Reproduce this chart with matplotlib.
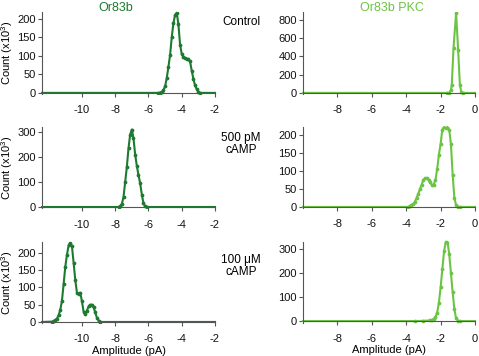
import numpy as np
import matplotlib
matplotlib.use('Agg')
import matplotlib.pyplot as plt

plt.rcParams['font.family'] = ['Liberation Sans', 'DejaVu Sans']
plt.rcParams['mathtext.fontset'] = 'custom'
plt.rcParams['mathtext.rm'] = 'Liberation Sans'
plt.rcParams['axes.unicode_minus'] = False

DARK = '#1d7a30'
LIGHT = '#6cc444'
AXC = '#555555'

# amplitude (pA) and counts (x10^3)
ctl_x = [-12.4, -5.4, -5.3, -5.2, -5.1, -5.0, -4.9, -4.8, -4.7, -4.6, -4.5, -4.4, -4.3,
         -4.2, -4.1, -4.0, -3.9, -3.8, -3.7, -3.6, -3.5, -3.4, -3.3, -3.2, -3.1, -3.0,
         -2.9, -2.0]
ctl_y = [0, 0, 1, 3, 7, 18, 40, 70, 102, 150, 188, 210, 216,
         185, 130, 105, 97, 93, 91, 90, 85, 60, 38, 20, 10, 3,
         0, 0]

pkc_ctl_x = [-10.0, -1.6, -1.5, -1.4, -1.35, -1.25, -1.1, -0.98, -0.88, -0.8, -0.7, 0.0]
pkc_ctl_y = [0, 0, 2, 30, 90, 490, 875, 470, 90, 10, 0, 0]

pm_x = [-12.4, -7.8, -7.7, -7.6, -7.5, -7.4, -7.3, -7.2, -7.1, -7.0, -6.9, -6.8,
        -6.7, -6.6, -6.5, -6.4, -6.3, -6.2, -6.1, -2.0]
pm_y = [0, 0, 3, 12, 40, 100, 160, 235, 290, 310, 275, 210,
        165, 128, 95, 50, 15, 3, 0, 0]

pkc_pm_x = [-10.0, -3.9, -3.8, -3.7, -3.6, -3.5, -3.4, -3.3, -3.2, -3.1, -3.0, -2.9,
            -2.8, -2.7, -2.6, -2.5, -2.4, -2.3, -2.2, -2.1, -2.0, -1.9, -1.8, -1.7,
            -1.6, -1.5, -1.4, -1.3, -1.2, -1.1, -1.0, -0.9, 0.0]
pkc_pm_y = [0, 0, 2, 5, 8, 14, 25, 36, 50, 62, 75, 80,
            80, 76, 68, 60, 62, 75, 105, 145, 175, 215, 222, 220,
            222, 215, 175, 90, 25, 5, 1, 0, 0]

um_x = [-12.4, -11.8, -11.7, -11.6, -11.5, -11.4, -11.3, -11.2, -11.1, -11.0, -10.9,
        -10.8, -10.7, -10.6, -10.5, -10.4, -10.3, -10.2, -10.1, -10.0, -9.9, -9.8,
        -9.7, -9.6, -9.5, -9.4, -9.3, -9.2, -9.1, -9.0, -8.9, -2.0]
um_y = [0, 1, 3, 5, 10, 20, 35, 62, 110, 160, 195,
        222, 230, 220, 172, 122, 85, 82, 85, 60, 30, 24,
        33, 45, 50, 50, 42, 28, 12, 4, 0, 0]

pkc_um_x = [-10.0, -3.5, -3.0, -2.6, -2.5, -2.4, -2.3, -2.2, -2.1, -2.0, -1.9, -1.8,
            -1.7, -1.6, -1.5, -1.4, -1.3, -1.2, -1.1, -1.0, -0.9, 0.0]
pkc_um_y = [0, 0, 1, 3, 5, 8, 15, 35, 75, 140, 215, 290,
            330, 330, 280, 200, 120, 50, 12, 2, 0, 0]

W, H = 479, 356
fig = plt.figure(figsize=(W / 100, H / 100), dpi=100)


def make_ax(x0, x1, top, bot):
    return fig.add_axes([x0 / W, 1 - bot / H, (x1 - x0) / W, (bot - top) / H])


panels = [
    # x, y, color, box, xlim, ylim, yticks, xticks
    (ctl_x, ctl_y, DARK, (42, 215, 12, 94), (-12.4, -2), (-3, 218), [0, 50, 100, 150, 200], [-10, -8, -6, -4, -2]),
    (pkc_ctl_x, pkc_ctl_y, LIGHT, (303, 475, 12, 94), (-10, 0), (-12, 886), [0, 200, 400, 600, 800], [-8, -6, -4, -2, 0]),
    (pm_x, pm_y, DARK, (42, 215, 127, 208), (-12.4, -2), (-4, 320), [0, 100, 200, 300], [-10, -8, -6, -4, -2]),
    (pkc_pm_x, pkc_pm_y, LIGHT, (303, 475, 127, 208), (-10, 0), (-3, 222), [0, 50, 100, 150, 200], [-8, -6, -4, -2, 0]),
    (um_x, um_y, DARK, (42, 215, 242, 323), (-12.4, -2), (-3, 232), [0, 50, 100, 150, 200], [-10, -8, -6, -4, -2]),
    (pkc_um_x, pkc_um_y, LIGHT, (303, 475, 242, 323), (-10, 0), (-8, 329), [0, 100, 200, 300], [-8, -6, -4, -2, 0]),
]

for i, (x, y, c, box, xl, yl, yt, xt) in enumerate(panels):
    ax = make_ax(*box)
    ax.plot(x, y, color=c, lw=1.5, clip_on=False)
    ax.plot(x[1:-1], y[1:-1], ls='none', marker='o', ms=1.7, mec=c, mfc=c)
    ax.set_xlim(*xl)
    ax.set_ylim(*yl)
    ax.set_yticks(yt)
    ax.set_xticks(xt)
    for s in ['top', 'right']:
        ax.spines[s].set_visible(False)
    for s in ['left', 'bottom']:
        ax.spines[s].set_color(AXC)
        ax.spines[s].set_linewidth(0.8)
    ax.spines['bottom'].set_position(('data', 0))
    ax.tick_params(direction='out', length=3, width=0.8, color=AXC,
                   labelsize=8, pad=1.5, labelcolor='#111111')
    ax.tick_params(axis='x', pad=6)
    if i % 2 == 0:
        ax.set_ylabel('Count (x10$^3$)', fontsize=8)
        ax.yaxis.set_label_coords(-27 / 173, 0.5)
    if i >= 4:
        ax.set_xlabel('Amplitude (pA)', fontsize=8, labelpad=1)

fig.text(116 / W, 1 - 8 / H, 'Or83b', color=DARK, fontsize=9, ha='center', va='center')
fig.text(392 / W, 1 - 8 / H, 'Or83b PKC', color=LIGHT, fontsize=9, ha='center', va='center')
fig.text(241 / W, 1 - 22 / H, 'Control', fontsize=8.5, ha='center', va='center')
fig.text(241 / W, 1 - 144 / H, '500 pM\ncAMP', fontsize=8.5, ha='center', va='center', linespacing=1.1)
fig.text(241 / W, 1 - 266 / H, '100 \u03bcM\ncAMP', fontsize=8.5, ha='center', va='center', linespacing=1.1)

fig.savefig('out.png', dpi=100)
